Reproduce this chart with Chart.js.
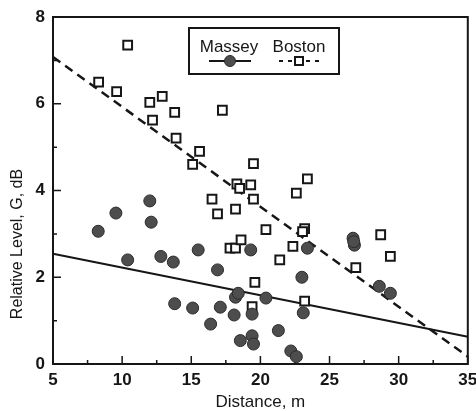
<!DOCTYPE html>
<html><head><meta charset="utf-8">
<script src="https://cdn.jsdelivr.net/npm/chart.js@4"></script>
<style>html,body{margin:0;padding:0;background:#fff}#wrap{width:476px;height:411px}</style>
</head><body><div id="wrap"><canvas id="c" width="476" height="411"></canvas></div>
<script>
// ---- data ----
const seriesNames = ['Massey', 'Boston'];
const masseyDistance = [8.27, 9.55, 10.4, 12.0, 12.1, 12.8, 13.7, 13.8, 15.1, 15.5, 16.4, 16.9, 17.1, 18.1, 18.2, 18.4, 18.55, 19.3, 19.4, 19.4, 19.5, 20.4, 21.3, 22.2, 22.6, 23.0, 23.1, 23.4, 26.7, 26.8, 26.75, 28.6, 29.4];
const masseyLevel    = [3.06, 3.48, 2.40, 3.76, 3.27, 2.48, 2.35, 1.39, 1.29, 2.63, 0.92, 2.17, 1.31, 1.13, 1.54, 1.63, 0.54, 2.63, 1.15, 0.65, 0.46, 1.52, 0.77, 0.30, 0.17, 2.00, 1.18, 2.67, 2.90, 2.74, 2.82, 1.79, 1.63];
const bostonDistance = [8.3, 9.6, 10.4, 12.0, 12.9, 12.2, 13.8, 13.9, 15.1, 15.6, 17.25, 16.5, 16.9, 18.2, 17.8, 18.2, 18.3, 18.5, 18.6, 19.3, 19.5, 19.5, 19.6, 19.4, 20.4, 21.4, 22.35, 22.6, 23.2, 23.05, 23.4, 23.2, 26.9, 28.7, 29.4];
const bostonLevel    = [6.50, 6.28, 7.35, 6.03, 6.17, 5.62, 5.80, 5.21, 4.60, 4.90, 5.85, 3.80, 3.46, 3.57, 2.67, 2.67, 4.15, 4.05, 2.86, 4.13, 4.62, 3.80, 1.88, 1.32, 3.10, 2.40, 2.71, 3.94, 3.12, 3.05, 4.27, 1.45, 2.22, 2.98, 2.48];
const masseyFitDistance = [5, 35];
const masseyFitLevel    = [2.54, 0.63];
const bostonFitDistance = [5, 35];
const bostonFitLevel    = [7.08, 0.17];
const xTickValues = [5, 10, 15, 20, 25, 30, 35];
const yTickValues = [0, 2, 4, 6, 8];
const xMinorTicks = [7.5, 12.5, 17.5, 22.5, 27.5, 32.5];
const yMinorTicks = [1, 3, 5, 7];
const xTitle = 'Distance, m';
const yTitle = 'Relative Level, G, dB';

// ---- styles ----
const FONT = '"Liberation Sans", Arial, Helvetica, sans-serif';
const INK = '#161616';
const DOT_FILL = '#4d4d4d';
const DOT_EDGE = '#2b2b2b';

const pts = (xs, ys) => xs.map((x, i) => ({ x, y: ys[i] }));

const framePlugin = {
  id: 'framePlugin',
  beforeDatasetsDraw(chart) {
    const { ctx, chartArea: a, scales } = chart;
    const xs = scales.x, ys = scales.y;
    ctx.save();
    ctx.strokeStyle = INK;
    ctx.lineWidth = 2;
    ctx.strokeRect(a.left, a.top, a.right - a.left, a.bottom - a.top);
    ctx.lineWidth = 1.5;
    ctx.beginPath();
    xTickValues.forEach(v => { const p = xs.getPixelForValue(v); ctx.moveTo(p, a.bottom); ctx.lineTo(p, a.bottom - 8); });
    xMinorTicks.forEach(v => { const p = xs.getPixelForValue(v); ctx.moveTo(p, a.bottom); ctx.lineTo(p, a.bottom - 4); });
    yTickValues.forEach(v => { const p = ys.getPixelForValue(v); ctx.moveTo(a.left, p); ctx.lineTo(a.left + 8, p); });
    yMinorTicks.forEach(v => { const p = ys.getPixelForValue(v); ctx.moveTo(a.left, p); ctx.lineTo(a.left + 4, p); });
    ctx.stroke();
    ctx.restore();
  },
  afterDraw(chart) {
    const { ctx, chartArea: a } = chart;
    ctx.save();
    // axis titles
    ctx.fillStyle = INK;
    ctx.textAlign = 'center';
    ctx.textBaseline = 'middle';
    ctx.font = '17px ' + FONT;
    ctx.fillText(xTitle, (a.left + a.right) / 2, a.bottom + 38);
    ctx.save();
    ctx.translate(18, a.top + 227);
    ctx.rotate(-Math.PI / 2);
    ctx.font = '16px ' + FONT;
    ctx.fillText(yTitle, 0, 0);
    ctx.restore();
    // legend box
    const L = a.left + 136, T = a.top + 11, W = 150, H = 46;
    ctx.fillStyle = '#fff';
    ctx.fillRect(L, T, W, H);
    ctx.strokeStyle = INK;
    ctx.lineWidth = 2;
    ctx.strokeRect(L, T, W, H);
    ctx.fillStyle = INK;
    ctx.font = '17px ' + FONT;
    ctx.textBaseline = 'alphabetic';
    const c1 = L + 40, c2 = L + 110;
    ctx.fillText(seriesNames[0], c1, T + 24);
    ctx.fillText(seriesNames[1], c2, T + 24);
    const ly = T + 33;
    // Massey sample
    ctx.lineWidth = 2;
    ctx.beginPath(); ctx.moveTo(c1 - 20, ly); ctx.lineTo(c1 + 22, ly); ctx.stroke();
    ctx.beginPath(); ctx.arc(c1 + 1, ly, 5.5, 0, Math.PI * 2);
    ctx.fillStyle = DOT_FILL; ctx.fill(); ctx.lineWidth = 1; ctx.strokeStyle = DOT_EDGE; ctx.stroke();
    // Boston sample
    ctx.strokeStyle = INK;
    ctx.lineWidth = 2;
    ctx.setLineDash([4, 5]);
    ctx.beginPath(); ctx.moveTo(c2 - 20, ly); ctx.lineTo(c2 + 20, ly); ctx.stroke();
    ctx.setLineDash([]);
    ctx.fillStyle = '#fff';
    ctx.fillRect(c2 - 4, ly - 4, 8, 8);
    ctx.strokeRect(c2 - 4, ly - 4, 8, 8);
    ctx.restore();
  }
};

new Chart(document.getElementById('c'), {
  type: 'scatter',
  data: {
    datasets: [
      { label: seriesNames[0], data: pts(masseyDistance, masseyLevel), pointStyle: 'circle', pointRadius: 6,
        backgroundColor: DOT_FILL, borderColor: DOT_EDGE, borderWidth: 1, order: 1, clip: false },
      { label: seriesNames[1], data: pts(bostonDistance, bostonLevel), pointStyle: 'rect', pointRadius: 6.2,
        backgroundColor: '#fff', borderColor: INK, borderWidth: 2, order: 2, clip: false },
      { label: seriesNames[0] + ' fit', type: 'line', data: pts(masseyFitDistance, masseyFitLevel), showLine: true,
        borderColor: INK, borderWidth: 2, pointRadius: 0, fill: false, order: 3, clip: false },
      { label: seriesNames[1] + ' fit', type: 'line', data: pts(bostonFitDistance, bostonFitLevel), showLine: true,
        borderColor: INK, borderWidth: 2.5, borderDash: [9, 6], pointRadius: 0, fill: false, order: 3, clip: false }
    ]
  },
  options: {
    responsive: false,
    animation: false,
    devicePixelRatio: 1,
    layout: { padding: { left: 0, right: 7, top: 17, bottom: 0 } },
    plugins: { legend: { display: false }, tooltip: { enabled: false } },
    scales: {
      x: {
        type: 'linear', min: 5, max: 35,
        grid: { display: false, drawTicks: false }, border: { display: false },
        afterBuildTicks: s => { s.ticks = xTickValues.map(v => ({ value: v })); },
        ticks: { padding: 6, color: INK, font: { family: FONT, size: 17, weight: 'bold' }, maxRotation: 0, autoSkip: false },
        afterFit: s => { s.height = 47; s.paddingLeft = 0; s.paddingRight = 0; }
      },
      y: {
        type: 'linear', min: 0, max: 8,
        grid: { display: false, drawTicks: false }, border: { display: false },
        afterBuildTicks: s => { s.ticks = yTickValues.map(v => ({ value: v })); },
        ticks: { padding: 8, color: INK, font: { family: FONT, size: 17, weight: 'bold' }, autoSkip: false },
        afterFit: s => { s.width = 53; s.paddingTop = 0; s.paddingBottom = 0; }
      }
    }
  },
  plugins: [framePlugin]
});
</script></body></html>
